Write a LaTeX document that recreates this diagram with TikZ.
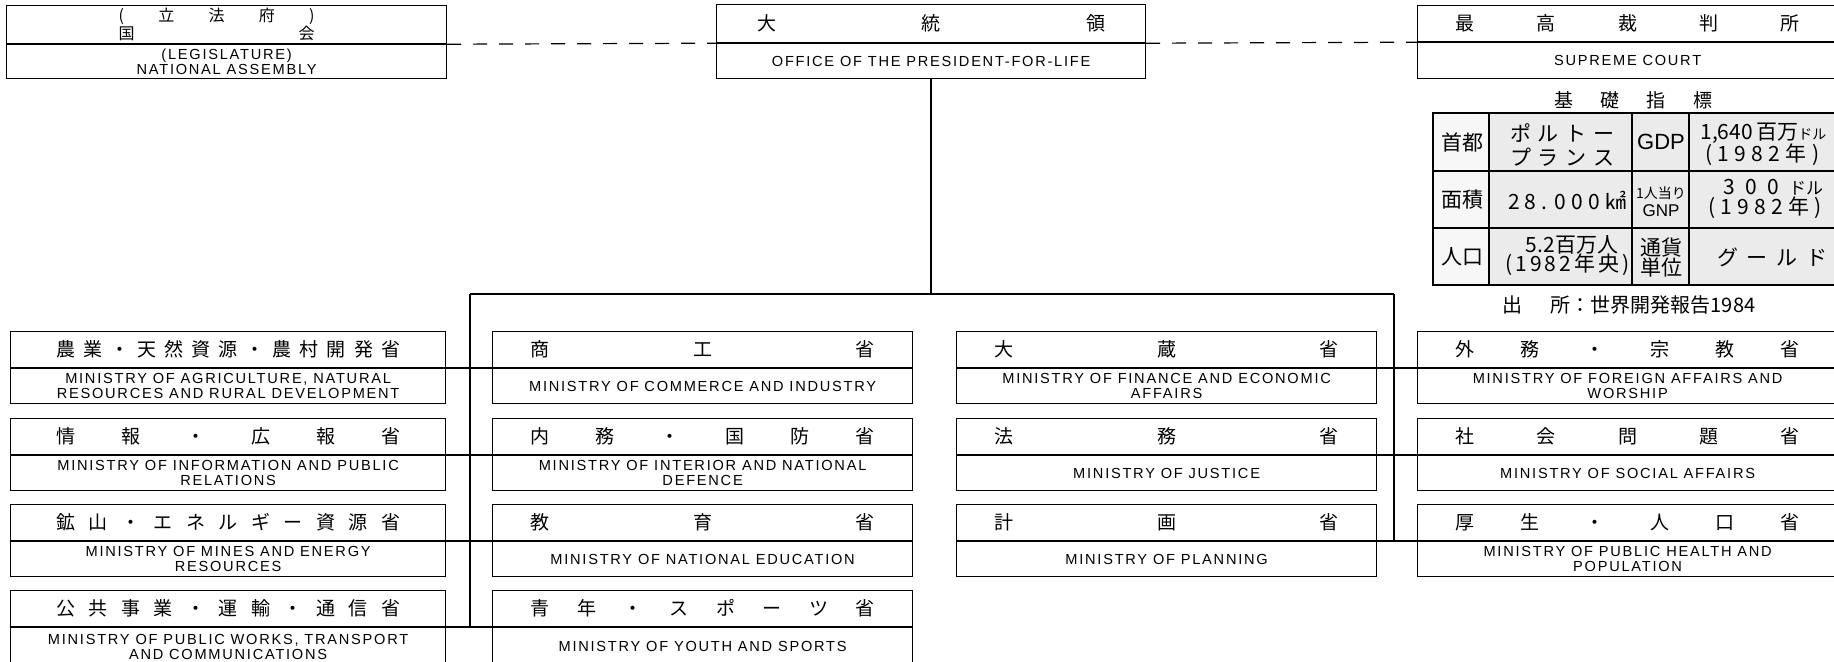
\documentclass[tikz,border=0pt]{standalone}
\usepackage{fontspec}
\setmainfont{Liberation Sans}
\newfontfamily\jpfont{Noto Sans CJK JP}
\newfontfamily\enfont{Liberation Sans}[LetterSpace=12]
\usetikzlibrary{positioning}
\newcommand{\spreadtext}[2]{\makebox[#1][s]{#2}}
\begin{document}
\begin{tikzpicture}[
                x=0.5pt, y=-0.5pt,
                head/.style={
                    draw,
                    line width=0.6pt,
                    inner sep=0pt,
                    anchor=north west,
                    minimum height=18pt,
                    font=\jpfont\fontsize{9.5}{11}\selectfont
                },
                body/.style={
                    draw,
                    line width=0.6pt,
                    inner sep=1pt,
                    minimum height=17.5pt,
                    align=center,
                    font=\enfont\fontsize{7.3}{7.6}\selectfont
                },
                colL/.style={minimum width=217.5pt},
                col/.style={minimum width=210pt},
                link/.style={
                    line width=1.1pt
                },
                dashline/.style={
                    line width=0.6pt,
                    dash pattern=on 7pt off 6pt
                },
                cell/.style={
                    inner sep=0pt,
                    font=\jpfont\fontsize{10.5}{12}\selectfont
                }
            ]
                \useasboundingbox (0,0) rectangle (1834,661);

                % top row
                \node[head, minimum width=220pt, minimum height=19pt, align=center, font=\jpfont\fontsize{8}{9}\selectfont] (legJ) at (6,5) {\spreadtext{98pt}{( 立 法 府 )}\hspace*{10pt}\\\spreadtext{98pt}{国 会}\hspace*{10pt}};
                \node[body, minimum width=220pt, minimum height=17pt, below=0pt of legJ] (legE) {(LEGISLATURE)\\NATIONAL ASSEMBLY};
                \node[head, minimum width=214.5pt, minimum height=19pt] (presJ) at (716,4) {\spreadtext{174pt}{大 統 領}};
                \node[body, minimum width=214.5pt, below=0pt of presJ] (presE) {OFFICE OF THE PRESIDENT-FOR-LIFE};
                \node[head, col] (supJ) at (1417,5) {\spreadtext{172pt}{最 高 裁 判 所}};
                \node[body, col, minimum height=18pt, below=0pt of supJ] (supE) {SUPREME COURT};

                % ministries, row 1
                \node[head, colL] (agriJ) at (10,331) {\spreadtext{172pt}{農 業 ・ 天 然 資 源 ・ 農 村 開 発 省}};
                \node[body, colL, below=0pt of agriJ] (agriE) {MINISTRY OF AGRICULTURE, NATURAL\\RESOURCES AND RURAL DEVELOPMENT};
                \node[head, col] (comJ) at (492,331) {\spreadtext{172pt}{商 工 省}};
                \node[body, col, below=0pt of comJ] (comE) {MINISTRY OF COMMERCE AND INDUSTRY};
                \node[head, col] (finJ) at (956,331) {\spreadtext{172pt}{大 蔵 省}};
                \node[body, col, below=0pt of finJ] (finE) {MINISTRY OF FINANCE AND ECONOMIC\\AFFAIRS};
                \node[head, col] (forJ) at (1417,331) {\spreadtext{172pt}{外 務 ・ 宗 教 省}};
                \node[body, col, below=0pt of forJ] (forE) {MINISTRY OF FOREIGN AFFAIRS AND\\WORSHIP};

                % row 2
                \node[head, colL] (infoJ) at (10,418) {\spreadtext{172pt}{情 報 ・ 広 報 省}};
                \node[body, colL, below=0pt of infoJ] (infoE) {MINISTRY OF INFORMATION AND PUBLIC\\RELATIONS};
                \node[head, col] (intJ) at (492,418) {\spreadtext{172pt}{内 務 ・ 国 防 省}};
                \node[body, col, below=0pt of intJ] (intE) {MINISTRY OF INTERIOR AND NATIONAL\\DEFENCE};
                \node[head, col] (jusJ) at (956,418) {\spreadtext{172pt}{法 務 省}};
                \node[body, col, below=0pt of jusJ] (jusE) {MINISTRY OF JUSTICE};
                \node[head, col] (socJ) at (1417,418) {\spreadtext{172pt}{社 会 問 題 省}};
                \node[body, col, below=0pt of socJ] (socE) {MINISTRY OF SOCIAL AFFAIRS};

                % row 3
                \node[head, colL] (minesJ) at (10,504) {\spreadtext{172pt}{鉱 山 ・ エ ネ ル ギ ー 資 源 省}};
                \node[body, colL, below=0pt of minesJ] (minesE) {MINISTRY OF MINES AND ENERGY\\RESOURCES};
                \node[head, col] (eduJ) at (492,504) {\spreadtext{172pt}{教 育 省}};
                \node[body, col, below=0pt of eduJ] (eduE) {MINISTRY OF NATIONAL EDUCATION};
                \node[head, col] (planJ) at (956,504) {\spreadtext{172pt}{計 画 省}};
                \node[body, col, below=0pt of planJ] (planE) {MINISTRY OF PLANNING};
                \node[head, col] (healthJ) at (1417,504) {\spreadtext{172pt}{厚 生 ・ 人 口 省}};
                \node[body, col, below=0pt of healthJ] (healthE) {MINISTRY OF PUBLIC HEALTH AND\\POPULATION};

                % row 4
                \node[head, colL] (pubJ) at (10,590) {\spreadtext{172pt}{公 共 事 業 ・ 運 輸 ・ 通 信 省}};
                \node[body, colL, minimum height=19pt, below=0pt of pubJ] (pubE) {MINISTRY OF PUBLIC WORKS, TRANSPORT\\AND COMMUNICATIONS};
                \node[head, col] (youthJ) at (492,590) {\spreadtext{172pt}{青 年 ・ ス ポ ー ツ 省}};
                \node[body, col, minimum height=19pt, below=0pt of youthJ] (youthE) {MINISTRY OF YOUTH AND SPORTS};

                % connectors
                \coordinate (busL) at (470,294);
                \coordinate (busR) at (1394,294);
                \draw[dashline] (legJ.south east) -- (presJ.south west);
                \draw[dashline] (presJ.south east) -- (supJ.south west);
                \draw[link] (presE.south) -- (presE.south |- busL);
                \draw[link] (busL) -- (busR);
                \draw[link] (busL) -- (busL |- pubJ.south east);
                \draw[link] (busR) -- (busR |- planJ.south east);
                \draw[link] (agriJ.south east) -- (comJ.south west);
                \draw[link] (infoJ.south east) -- (intJ.south west);
                \draw[link] (minesJ.south east) -- (eduJ.south west);
                \draw[link] (pubJ.south east) -- (youthJ.south west);
                \draw[link] (finJ.south east) -- (forJ.south west);
                \draw[link] (jusJ.south east) -- (socJ.south west);
                \draw[link] (planJ.south east) -- (healthJ.south west);

                % basic indicators table
                \node[font=\jpfont\fontsize{9.5}{11}\selectfont] (statT) at (1633,100) {\spreadtext{79pt}{基 礎 指 標}};
                \fill[black!3] (1433,113) rectangle (1489,285);
                \fill[black!8] (1489,113) rectangle (1860,285);
                \draw[line width=0.6pt] (1433,171) -- (1860,171) (1433,228) -- (1860,228)
                    (1489,113) -- (1489,285) (1689,113) -- (1689,285);
                \draw[line width=1.3pt] (1632,113) -- (1632,285);
                \draw[line width=1pt] (1433,113) rectangle (1860,285);

                \node[cell] (capK) at (1462,142) {首都};
                \node[cell] (capV1) at (1562,133) {\spreadtext{52pt}{ポ ル ト ー}};
                \node[cell] (capV2) at (1562,157) {\spreadtext{52pt}{プ ラ ン ス}};
                \node[cell, font=\fontsize{11}{12}\selectfont] (gdpK) at (1661,142) {GDP};
                \node[cell, anchor=west] (gdpV1) at (1700,133) {1,640\,百万{\fontsize{7}{8}\selectfont ドル}};
                \node[cell, anchor=west] (gdpV2) at (1705,155) {\spreadtext{57pt}{( 1 9 8 2 年 )}};

                \node[cell] (areaK) at (1462,200) {面積};
                \node[cell] (areaV) at (1567,200) {\spreadtext{59pt}{2 8 . 0 0 0 ㎢}};
                \node[cell, font=\jpfont\fontsize{7}{8}\selectfont] (gnpK1) at (1661,193) {1人当り};
                \node[cell, font=\fontsize{8.5}{9}\selectfont] (gnpK2) at (1661,211) {GNP};
                \node[cell] (gnpV1) at (1773,187) {\spreadtext{50pt}{3 0 0 {\fontsize{8.5}{9}\selectfont ドル}}};
                \node[cell] (gnpV2) at (1765,208) {\spreadtext{57pt}{( 1 9 8 2 年 )}};

                \node[cell] (popK) at (1462,257) {人口};
                \node[cell] (popV1) at (1572,245) {5.2百万人};
                \node[cell] (popV2) at (1562,265) {\spreadtext{57pt}{( 1 9 8 2 年 央 )}};
                \node[cell] (curK1) at (1661,247) {通貨};
                \node[cell] (curK2) at (1661,268) {単位};
                \node[cell] (curV) at (1772,257) {\spreadtext{55pt}{グ ー ル ド}};

                \node[font=\jpfont\fontsize{10}{12}\selectfont] (srcN) at (1629,305) {出\hspace{14pt}所：世界開発報告1984};
        \end{tikzpicture}
\end{document}
